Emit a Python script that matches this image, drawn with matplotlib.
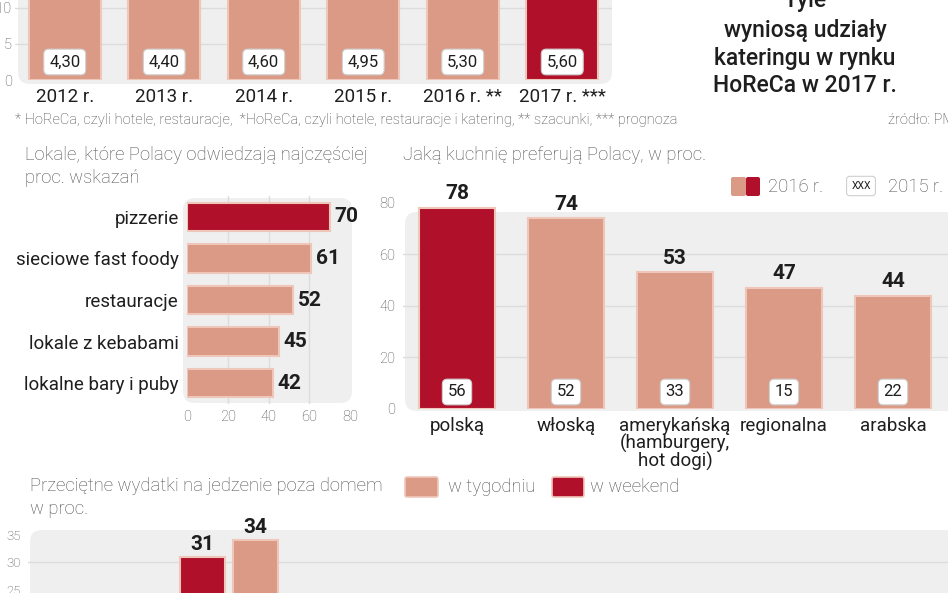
import matplotlib
matplotlib.use('Agg')
import matplotlib.pyplot as plt
from matplotlib.patches import FancyBboxPatch
from matplotlib.transforms import IdentityTransform

# ---------------- data ----------------
years = ['2012 r.', '2013 r.', '2014 r.', '2015 r.', '2016 r. **', '2017 r. ***']
market_values = [23.5, 24.8, 26.3, 28.0, 29.9, 31.7]          # bars (cut off above)
catering_share = ['4,30', '4,40', '4,60', '4,95', '5,30', '5,60']

venues = ['pizzerie', 'sieciowe fast foody', 'restauracje', 'lokale z kebabami', 'lokalne bary i puby']
venue_pct = [70, 61, 52, 45, 42]

cuisines = ['polską', 'włoską', 'amerykańską\n(hamburgery,\nhot dogi)', 'regionalna', 'arabska']
cuisine_2016 = [78, 74, 53, 47, 44]
cuisine_2015 = [56, 52, 33, 15, 22]

spend_weekend = [31]
spend_week = [34]

# ---------------- style ----------------
LIGHT = '#DA9A85'
DARK = '#B0102A'
EDGE = '#EFC7BA'
PANEL = '#EFEFEF'
GRID = '#DCDCDC'
TXT = '#1E1E1E'
GREY = '#4F4F4F'

plt.rcParams['font.family'] = ['Roboto', 'DejaVu Sans']

W, H = 948, 593
fig = plt.figure(figsize=(9.48, 5.93), dpi=100)
fig.patch.set_facecolor('white')


def ax_px(x0, y0, x1, y1):
    a = fig.add_axes([x0 / W, 1 - y1 / H, (x1 - x0) / W, (y1 - y0) / H])
    a.patch.set_alpha(0)
    for s in a.spines.values():
        s.set_visible(False)
    a.tick_params(length=0)
    return a


def panel(x0, y0, x1, y1, color=PANEL, r=12):
    p = FancyBboxPatch((x0, H - y1), x1 - x0, y1 - y0,
                       boxstyle=f'round,pad=0,rounding_size={r}',
                       transform=IdentityTransform(), fc=color, ec='none', zorder=-5)
    fig.add_artist(p)


def rect(x0, y0, x1, y1, fc, ec='none', lw=1.0, r=2):
    p = FancyBboxPatch((x0, H - y1), x1 - x0, y1 - y0,
                       boxstyle=f'round,pad=0,rounding_size={r}',
                       transform=IdentityTransform(), fc=fc, ec=ec, lw=lw, zorder=5)
    fig.add_artist(p)


def ftext(x, y, s, **kw):
    fig.text(x / W, 1 - y / H, s, **kw)


box_style = dict(boxstyle='round,pad=0.32,rounding_size=0.3', fc='white', ec='#CFCFCF', lw=0.8)
TICK_FS = 10.5
TITLE_FS = 13.3

# ---------------- top chart ----------------
panel(18, -20, 612, 84)
ax1 = ax_px(15, 0, 612, 80)
x = list(range(len(years)))
cols = [LIGHT] * (len(years) - 1) + [DARK]
ax1.bar(x, market_values, width=0.72, color=cols, edgecolor=EDGE, linewidth=1.5, zorder=3)
ax1.set_xlim(-0.5, 5.5)
ax1.set_ylim(0, 11.1)
ax1.set_yticks([0, 5, 10])
ax1.set_yticklabels(['0', '5', '10'], color=GREY, fontsize=TICK_FS, fontweight='light')
ax1.tick_params(axis='y', pad=2)
ax1.set_xticks(x)
ax1.set_xticklabels(years, fontsize=13.5, color=TXT)
ax1.tick_params(axis='x', pad=6)
for v in [5, 10]:
    ax1.axhline(v, color=GRID, lw=1, zorder=1)
for i, s in enumerate(catering_share):
    ax1.text(i, 2.5, s, ha='center', va='center', fontsize=12, color=TXT, bbox=box_style, zorder=6)

ftext(15, 120, '* HoReCa, czyli hotele, restauracje,  *HoReCa, czyli hotele, restauracje i katering, '
      '** szacunki, *** prognoza', fontsize=10.5, color='#444444', va='center', fontweight='light')
ftext(888, 120, 'źródło: PMR', fontsize=10.5, color='#444444', va='center', fontweight='light')

for yy, s in [(1, 'Tyle'), (30, 'wyniosą udziały'), (58, 'kateringu w rynku'), (86, 'HoReCa w 2017 r.')]:
    ftext(805, yy, s, fontsize=16.5, color=TXT, ha='center', va='center', fontweight='medium')

# ---------------- middle left ----------------
ftext(25, 155, 'Lokale, które Polacy odwiedzają najczęściej', fontsize=TITLE_FS, color=GREY,
      va='center', fontweight='light')
ftext(25, 178, 'proc. wskazań', fontsize=TITLE_FS, color=GREY, va='center', fontweight='light')
panel(183, 198, 352, 403)
ax2 = ax_px(187, 196, 350, 404)
y = list(range(len(venues)))
cols2 = [DARK] + [LIGHT] * (len(venues) - 1)
ax2.barh(y, venue_pct, height=0.68, color=cols2, edgecolor=EDGE, linewidth=1.5, zorder=3)
ax2.set_xlim(0, 80)
ax2.set_ylim(4.5, -0.5)
ax2.set_yticks(y)
ax2.set_yticklabels(venues, fontsize=13.5, color=TXT)
ax2.tick_params(axis='y', pad=6)
ax2.set_xticks([0, 20, 40, 60, 80])
ax2.set_xticklabels(['0', '20', '40', '60', '80'], fontsize=TICK_FS, color=GREY, fontweight='light')
ax2.tick_params(axis='x', pad=4)
for v in [20, 40, 60]:
    ax2.axvline(v, color=GRID, lw=1, zorder=1)
for i, v in enumerate(venue_pct):
    ax2.text(v + 2.5, i, str(v), ha='left', va='center', fontsize=15, fontweight='bold', color=TXT)

# ---------------- middle right ----------------
ftext(403, 155, 'Jaką kuchnię preferują Polacy, w proc.', fontsize=TITLE_FS, color=GREY,
      va='center', fontweight='light')
rect(731, 177, 746, 196, LIGHT)
rect(746, 177, 760, 196, DARK)
ftext(768, 187, '2016 r.', fontsize=TITLE_FS, color=GREY, va='center', fontweight='light')
ftext(861, 186, 'XXX', fontsize=7.5, color=TXT, va='center', ha='center',
      bbox=dict(boxstyle='round,pad=0.45,rounding_size=0.3', fc='white', ec='#CFCFCF', lw=0.8))
ftext(888, 187, '2015 r.', fontsize=TITLE_FS, color=GREY, va='center', fontweight='light')

panel(405, 212, 970, 411)
ax3 = ax_px(402.5, 190, 947.5, 409)
xc = list(range(len(cuisines)))
cols3 = [DARK] + [LIGHT] * (len(cuisines) - 1)
ax3.bar(xc, cuisine_2016, width=0.69, color=cols3, edgecolor=EDGE, linewidth=1.5, zorder=3)
ax3.set_xlim(-0.5, 4.5)
ax3.set_ylim(0, 85)
ax3.set_yticks([0, 20, 40, 60, 80])
ax3.set_yticklabels(['0', '20', '40', '60', '80'], fontsize=TICK_FS, color=GREY, fontweight='light')
ax3.tick_params(axis='y', pad=5)
ax3.set_xticks(xc)
ax3.set_xticklabels(cuisines, fontsize=13.5, color=TXT, linespacing=0.92, va='top')
ax3.tick_params(axis='x', pad=6)
for v in [20, 40, 60]:
    ax3.axhline(v, color=GRID, lw=1, zorder=1)
for i, (v, old) in enumerate(zip(cuisine_2016, cuisine_2015)):
    ax3.text(i, v + 1.8, str(v), ha='center', va='bottom', fontsize=15, fontweight='bold', color=TXT)
    ax3.text(i, 6.6, str(old), ha='center', va='center', fontsize=12, color=TXT, bbox=box_style, zorder=6)

# ---------------- bottom chart ----------------
ftext(30, 486, 'Przeciętne wydatki na jedzenie poza domem', fontsize=TITLE_FS, color=GREY,
      va='center', fontweight='light')
ftext(30, 509, 'w proc.', fontsize=TITLE_FS, color=GREY, va='center', fontweight='light')
rect(405, 477, 438, 497, LIGHT, ec=EDGE, lw=1.2)
ftext(448, 487, 'w tygodniu', fontsize=TITLE_FS, color=GREY, va='center', fontweight='light')
rect(552, 477, 584, 497, DARK, ec=EDGE, lw=1.2)
ftext(590, 487, 'w weekend', fontsize=TITLE_FS, color=GREY, va='center', fontweight='light')

panel(30, 530, 980, 640)
ax4 = ax_px(28, 530, 948, 593)
g = list(range(len(spend_week)))
ax4.bar([i - 0.265 for i in g], spend_weekend, width=0.45, color=DARK, edgecolor=EDGE, linewidth=1.5, zorder=3)
ax4.bar([i + 0.265 for i in g], spend_week, width=0.45, color=LIGHT, edgecolor=EDGE, linewidth=1.5, zorder=3)
ax4.set_xlim(-2.005, 7.195)
ax4.set_ylim(24.45, 35.9)
ax4.set_xticks([])
ax4.set_yticks([25, 30, 35])
ax4.set_yticklabels(['25', '30', '35'], fontsize=9.5, color=GREY, fontweight='light')
ax4.tick_params(axis='y', pad=5)
ax4.axhline(30, color=GRID, lw=1, zorder=1)
for i in g:
    ax4.text(i - 0.265, spend_weekend[i] + 0.6, str(spend_weekend[i]), ha='center', va='bottom',
             fontsize=15, fontweight='bold', color=TXT)
    ax4.text(i + 0.265, spend_week[i] + 0.6, str(spend_week[i]), ha='center', va='bottom',
             fontsize=15, fontweight='bold', color=TXT)

fig.savefig('out.png', dpi=100)
